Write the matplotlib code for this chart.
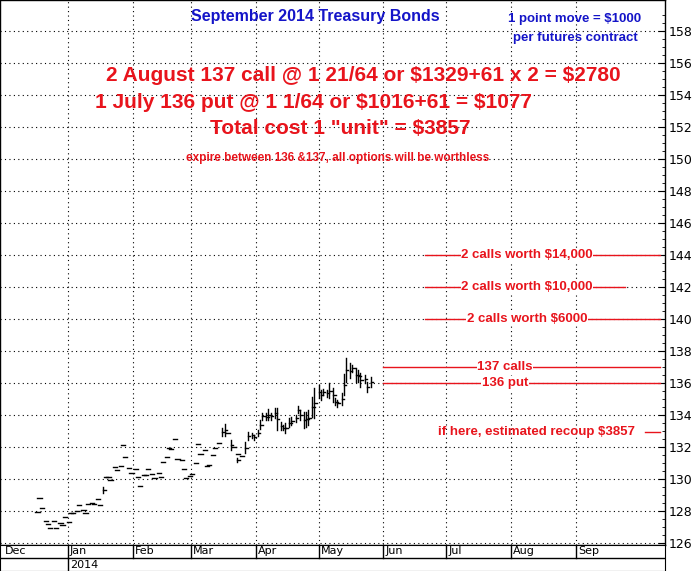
import matplotlib
matplotlib.use("Agg")
import matplotlib.pyplot as plt
import matplotlib.dates as mdates
import numpy as np
import pandas as pd
import datetime as dt

plt.rcParams["font.family"] = "Liberation Sans"
plt.rcParams["text.parse_math"] = False

highs = [127.92,128.79,128.17,127.37,127.19,126.92,127.40,126.96,127.23,127.12,127.60,127.29,127.85,127.85,128.0,128.37,128.06,127.85,128.44,128.52,128.44,128.73,128.37,129.52,130.15,130.15,129.94,130.77,130.56,130.81,132.12,131.4,130.67,130.35,130.6,130.15,129.56,130.25,130.25,130.6,130.31,130.04,130.4,130.15,131.08,131.4,131.96,131.85,132.48,131.23,131.19,130.65,130.04,130.19,130.31,130.98,132.17,131.56,131.81,130.83,130.87,131.5,131.92,132.23,133.17,133.44,132.85,132.44,132.02,131.29,131.56,131.44,132.33,132.96,132.9,132.75,133.06,133.69,134.15,134.1,134.35,134.15,134.42,134.42,133.58,133.37,133.52,133.79,133.9,134.0,134.56,134.31,134.21,134.21,134.31,135.15,135.67,135.88,135.56,135.6,135.56,135.98,135.67,135.04,134.94,135.35,136.56,137.54,137.23,137.13,136.92,136.81,136.6,136.5,136.08,136.4]
lows = [127.92,128.79,128.17,127.37,127.19,126.92,127.40,126.96,127.23,127.12,127.60,127.29,127.85,127.85,128.0,128.37,128.06,127.85,128.44,128.52,128.44,128.73,128.37,129.10,130.15,130.15,129.94,130.77,130.56,130.81,132.12,131.4,130.67,130.35,130.6,130.15,129.56,130.25,130.25,130.6,130.31,130.04,130.4,130.15,131.08,131.4,131.96,131.85,132.48,131.23,131.19,130.65,130.04,130.19,130.31,130.98,132.17,131.56,131.81,130.83,130.87,131.5,131.92,132.23,132.69,132.69,132.85,131.81,132.02,131.08,131.56,131.44,131.6,132.44,132.54,132.44,132.69,133.1,133.69,133.69,133.69,133.69,133.79,133.06,133.06,133.06,132.85,133.27,133.37,133.58,134.1,133.69,133.17,133.27,133.37,133.9,133.79,135.04,134.94,135.25,135.15,135.04,134.83,134.63,134.52,134.63,135.25,136.08,136.29,136.71,136.08,136.08,135.77,135.98,135.46,135.77]
closes = [h * 0.5 + l * 0.5 for h, l in zip(highs, lows)]
dates = pd.date_range("2013-12-18", "2014-05-26", periods=len(highs)).normalize()

months = ["Dec", "Jan", "Feb", "Mar", "Apr", "May", "Jun", "Jul", "Aug", "Sep"]
month_starts = pd.date_range("2013-12-01", periods=10, freq="MS")
y_ticks = list(range(126, 160, 2))

W, H = 696, 571
fig = plt.figure(figsize=(W / 100, H / 100), dpi=100)
ax = fig.add_axes([0, (H - 545) / H, 665 / W, 545 / H])
d0 = mdates.date2num(dt.datetime(2013, 12, 1))
ax.set_xlim(d0 - 1.4, d0 + 316.7)
ax.set_ylim(125.875, 159.94)

for d, h, l, c in zip(dates, highs, lows, closes):
    x = mdates.date2num(d)
    if h - l < 0.05:
        ax.plot([x - 1.5, x + 0.5], [c, c], color="black", lw=1)
    else:
        ax.plot([x, x], [l, h], color="black", lw=1)
        ax.plot([x, x + 1.2], [c, c], color="black", lw=1)

for y in y_ticks:
    ax.axhline(y, color="black", ls=(0, (1, 3)), lw=0.8, zorder=0)
for m in month_starts[1:]:
    ax.axvline(mdates.date2num(m), color="black", ls=(0, (1, 3)), lw=0.8, zorder=0)

ax.yaxis.tick_right()
ax.set_yticks(y_ticks)
ax.set_yticklabels([str(v) for v in y_ticks], fontsize=9, family="DejaVu Sans")
ax.set_yticks(np.arange(126, 159.5, 0.5), minor=True)
ax.tick_params(axis="y", which="major", length=5, direction="in", pad=3)
ax.tick_params(axis="y", which="minor", length=2, direction="in", right=True)
ax.set_xticks([])
for s in ax.spines.values():
    s.set_linewidth(1)

red = "#e8141c"
blue = "#1414c8"
tf = ax.transAxes
def px(x, y):
    return x / 665, 1 - y / 545

ax.text(*px(315, 17), "September 2014 Treasury Bonds", transform=tf, color=blue,
        fontsize=11.5, fontweight="bold", ha="center", va="center")
ax.text(*px(575, 19), "1 point move = $1000", transform=tf, color=blue,
        fontsize=9.5, fontweight="bold", ha="center", va="center")
ax.text(*px(575, 38), "per futures contract", transform=tf, color=blue,
        fontsize=9.5, fontweight="bold", ha="center", va="center")
ax.text(*px(363, 75), "2 August 137 call @ 1 21/64 or $1329+61 x 2 = $2780",
        transform=tf, color=red, fontsize=15, fontweight="bold", ha="center", va="center")
ax.text(*px(95, 102), "1 July 136 put @ 1 1/64 or $1016+61 = $1077",
        transform=tf, color=red, fontsize=15, fontweight="bold", ha="left", va="center")
ax.text(*px(340, 128), 'Total cost 1 "unit" = $3857',
        transform=tf, color=red, fontsize=15, fontweight="bold", ha="center", va="center")
ax.text(*px(338, 158), "expire between 136 &137, all options will be worthless",
        transform=tf, color=red, fontsize=8.5, fontweight="bold", ha="center", va="center")

notes = [(144, 425, 660, 527, "2 calls worth $14,000"),
         (142, 425, 625, 527, "2 calls worth $10,000"),
         (140, 425, 660, 527, "2 calls worth $6000"),
         (137, 383, 660, 505, "137 calls"),
         (136, 383, 660, 505, "136 put")]
for price, x1, x2, xc, label in notes:
    yy = 543 - (price - 126) * 16
    ax.plot([x1 / 665, x2 / 665], [1 - yy / 545] * 2, transform=tf, color=red, lw=1)
    ax.text(xc / 665, 1 - yy / 545, label, transform=tf, color=red, fontsize=9.5,
            fontweight="bold", ha="center", va="center",
            bbox=dict(facecolor="white", edgecolor="none", pad=0.5))
ax.text(*px(537, 432), "if here, estimated recoup $3857", transform=tf, color=red,
        fontsize=9.5, fontweight="bold", ha="center", va="center")
ax.plot([645 / 665, 660 / 665], [1 - 432 / 545] * 2, transform=tf, color=red, lw=1)

# date strip
ax2 = fig.add_axes([0, 0, 665 / W, 26 / H])
ax2.set_xlim(ax.get_xlim())
ax2.set_ylim(0, 2)
ax2.set_xticks([]); ax2.set_yticks([])
ax2.axhline(1, color="black", lw=1)
for i, (m, lab) in enumerate(zip(month_starts, months)):
    x = mdates.date2num(m)
    if i > 0:
        ax2.plot([x, x], [1, 2], color="black", lw=1)
    ax2.text(x + 1, 1.5, lab, fontsize=8, family="DejaVu Sans", va="center", ha="left")
xj = mdates.date2num(month_starts[1])
ax2.plot([xj, xj], [0, 1], color="black", lw=1)
ax2.text(xj + 1, 0.5, "2014", fontsize=8, family="DejaVu Sans", va="center", ha="left")

fig.savefig("out.png", dpi=100)
